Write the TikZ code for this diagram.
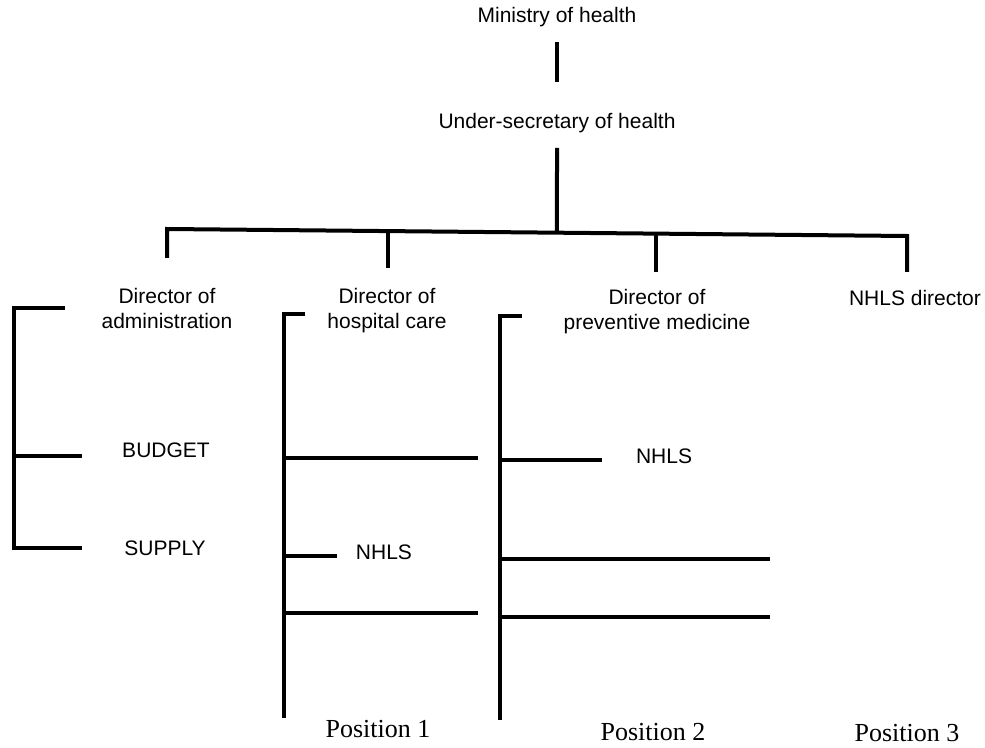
\documentclass[tikz,border=0pt]{standalone}
\usepackage{fontspec}
\setmainfont{Liberation Sans}
\newfontfamily\posfont{Liberation Serif}
\usetikzlibrary{calc}
\begin{document}
\begin{tikzpicture}[x=0.5pt,y=-0.5pt,
  lbl/.style={font=\fontsize{10.5}{12.5}\selectfont, align=center, inner sep=0pt},
  poslbl/.style={font=\posfont\fontsize{13}{15}\selectfont, inner sep=0pt},
  link/.style={line width=2pt, line join=miter}]
\useasboundingbox (0,0) rectangle (985,748);

% --- top of the hierarchy
\node[lbl] (min)  at (557,17)  {Ministry of health};
\node[lbl] (usec) at (557,123) {Under-secretary of health};
\coordinate (min-foot)  at (557,42);
\coordinate (usec-head) at (557,82);
\coordinate (usec-foot) at (557,148);
\draw[link] (min-foot) -- (usec-head);

% --- main bus with the four directors
\coordinate (busL) at (167,229);
\coordinate (busR) at (907,236);
\coordinate (bus-usec)  at ($(busL)!0.527!(busR)$);
\coordinate (bus-hosp)  at ($(busL)!0.2986!(busR)$);
\coordinate (bus-prev)  at ($(busL)!0.6608!(busR)$);
\coordinate (adm-head)  at (167,258);
\coordinate (hosp-head) at (388,268);
\coordinate (prev-head) at (656,272);
\coordinate (nhls-head) at (907,272);
\draw[link] (usec-foot) -- (bus-usec);
\draw[link] (adm-head) -- (busL) -- (busR) -- (nhls-head);
\draw[link] (bus-hosp) -- (bus-hosp |- hosp-head);
\draw[link] (bus-prev) -- (bus-prev |- prev-head);

\node[lbl] (dadm)  at (167,308) {Director of\\administration};
\node[lbl] (dhosp) at (387,311) {Director of\\hospital care};
\node[lbl] (dprev) at (657,312) {Director of\\preventive medicine};
\node[lbl] (dnhls) at (915,298) {NHLS director};

% --- administration branch
\node[lbl] (budget) at (166,450) {BUDGET};
\node[lbl] (supply) at (165,548) {SUPPLY};
\coordinate (adm-t)  at (65,308);
\coordinate (adm-tc) at (14,308);
\coordinate (adm-bc) at (14,548);
\coordinate (adm-mc) at (14,456);
\draw[link] (adm-t) -- (adm-tc) -- (adm-bc) -- (82,548);
\draw[link] (adm-mc) -- (82,456);

% --- hospital care branch (Position 1)
\node[lbl] (nhls1) at (384,552) {NHLS};
\coordinate (hosp-t)  at (305,314);
\coordinate (hosp-tc) at (284,314);
\coordinate (hosp-b)  at (284,718);
\draw[link] (hosp-t) -- (hosp-tc) -- (hosp-b);
\draw[link] (284,458) -- (478,458);
\draw[link] (284,556) -- (337,556);
\draw[link] (284,613) -- (478,613);

% --- preventive medicine branch (Position 2)
\node[lbl] (nhls2) at (664,456) {NHLS};
\coordinate (prev-t)  at (522,316);
\coordinate (prev-tc) at (500,316);
\coordinate (prev-b)  at (500,720);
\draw[link] (prev-t) -- (prev-tc) -- (prev-b);
\draw[link] (500,460) -- (602,460);
\draw[link] (500,559) -- (770,559);
\draw[link] (500,617) -- (770,617);

% --- position captions
\node[poslbl] (pos1) at (378,729) {Position 1};
\node[poslbl] (pos2) at (653,732) {Position 2};
\node[poslbl] (pos3) at (907,733) {Position 3};
\end{tikzpicture}
\end{document}
